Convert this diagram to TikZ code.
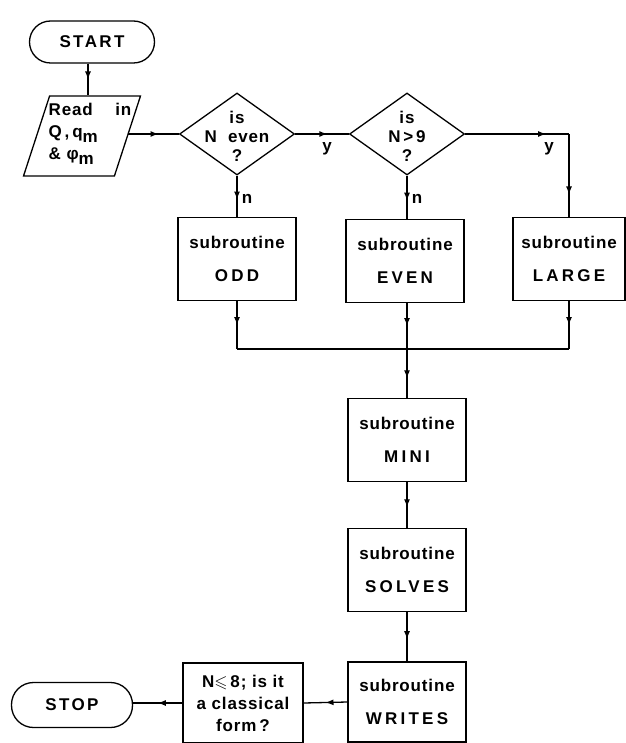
\documentclass[tikz,border=0pt]{standalone}
\usepackage{fontspec}
\usepackage{amssymb}
\setmainfont{Liberation Sans}[LetterSpace=5]
\newcommand{\spcaps}[1]{{\addfontfeature{LetterSpace=14}#1}}
\newcommand{\subname}[1]{{\addfontfeature{LetterSpace=19}#1}}
\usetikzlibrary{shapes.geometric,decorations.markings,arrows.meta}
\begin{document}
\begin{tikzpicture}[x=1pt,y=-1pt,line width=1.3pt,font=\fontsize{17}{19}\selectfont\bfseries]
		\useasboundingbox (0,0) rectangle (625,743);
		\tikzstyle{term}=[draw,rectangle,rounded corners=21pt,minimum height=42pt,inner sep=2pt]
		\tikzstyle{sub}=[draw,rectangle,minimum width=118pt,minimum height=83pt,inner sep=2pt,align=center]
		\tikzstyle{test}=[draw,diamond,minimum width=115pt,minimum height=82pt,inner sep=1pt]
		\tikzstyle{io}=[draw,trapezium,trapezium left angle=86,trapezium right angle=94,trapezium stretches=true,minimum width=117pt,minimum height=80pt,inner sep=2pt]
		\tikzset{flow/.style={postaction={decorate},decoration={markings,mark=at position #1 with {\arrow{Latex[length=8pt,width=6pt]}}}},flow/.default=0.5}
		% nodes
		\node[term,minimum width=125pt] (f_start) at (92,42) {\spcaps{START}};
		\coordinate (c_in) at (88,0);
		\node[io] (f_read) at (82,136) {\strut};
		\node[align=left,font=\fontsize{17}{22}\selectfont\bfseries] (f_readtx) at (90,134) {Read\quad\ in\\Q\,,\,q\raisebox{-5pt}{m}\\\&\ φ\raisebox{-5pt}{m}};
		\node[test] (f_even) at (237,134) {\strut};
		\node[align=center] (f_eventx) at (237,136) {is\\N\ \ even\\?};
		\node[test] (f_large) at (407,134) {\strut};
		\node[align=center] (f_largetx) at (407,136) {is\\N\,>\,9\\?};
		\node[sub] (s_odd) at (237,259) {subroutine\\[14pt]\subname{ODD}};
		\node[sub] (s_even) at (405,261) {subroutine\\[14pt]\subname{EVEN}};
		\node[sub,minimum width=112pt] (s_large) at (569,259) {subroutine\\[14pt]\subname{LARGE}};
		\coordinate (m_join) at (407,349);
		\node[sub] (s_mini) at (407,440) {subroutine\\[14pt]\subname{MINI}};
		\node[sub] (s_solves) at (407,570) {subroutine\\[14pt]\subname{SOLVES}};
		\node[sub,minimum height=80pt] (s_writes) at (407,702) {subroutine\\[14pt]\subname{WRITES}};
		\node[sub,minimum width=120pt,minimum height=80pt,inner sep=0pt,font=\fontsize{17}{22}\selectfont\bfseries] (f_class) at (243,703) {N$\leqslant$\,8; is it\\a classical\\form\,?};
		\node[term,minimum width=121pt,minimum height=45pt,rounded corners=22pt] (f_stop) at (72,705) {\spcaps{STOP}};
		\coordinate (c_right) at (f_large.east -| s_large);
		% connectors
		\draw[flow] (f_start.south -| c_in) -- (f_read.north -| c_in);
		\draw[flow=0.6] (f_read.east |- f_even.west) -- (f_even.west);
		\draw[flow=0.6] (f_even.east) -- (f_large.west);
		\draw[flow=0.78] (f_large.east) -- (c_right);
		\draw[flow=0.73] (c_right) -- (s_large.north);
		\draw[flow=0.58] (f_even.south) -- (s_odd.north);
		\draw[flow=0.58] (f_large.south) -- (s_even.north -| f_large);
		\draw[flow] (s_odd.south) -- (s_odd.south |- m_join);
		\draw[flow] (s_even.south -| m_join) -- (m_join);
		\draw[flow] (s_large.south) -- (s_large.south |- m_join);
		\draw (s_odd.south |- m_join) -- (s_large.south |- m_join);
		\draw[flow=0.6] (m_join) -- (s_mini.north);
		\draw[flow=0.55] (s_mini.south) -- (s_solves.north);
		\draw[flow=0.55] (s_solves.south) -- (s_writes.north);
		\draw[flow] (s_writes.west) -- (f_class.east);
		\draw[flow] (f_class.west) -- (f_class.west -| f_stop.east);
		% branch labels
		\node (l_y1) at (327,149) {y};
		\node (l_y2) at (549,149) {y};
		\node (l_n1) at (247,199) {n};
		\node (l_n2) at (417,199) {n};
	\end{tikzpicture}
\end{document}
